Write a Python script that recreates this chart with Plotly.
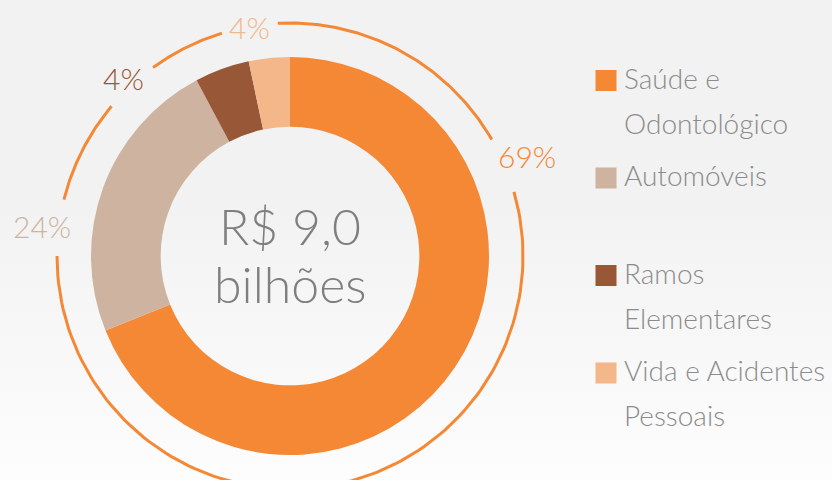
import numpy as np
import plotly.graph_objects as go

# data (R$ bilhões)
categories = ["Saúde e<br>Odontológico", "Automóveis", "Ramos<br>Elementares", "Vida e Acidentes<br>Pessoais"]
values = [6.2, 2.1, 0.4, 0.3]
pct_labels = ["69%", "24%", "4%", "4%"]
total_label = ["R$ 9,0", "bilhões"]

colors = ["#F48835", "#CDB3A0", "#985737", "#F3B78A"]
label_colors = ["#F48835", "#CDB3A0", "#985737", "#F3B78A"]

W, H = 832, 480
cx, cy, R = 290, 256, 199   # donut centre / outer radius in px
ring_r = 233                 # decorative outer arc
label_angles = [67, 277, 317, 350]   # deg, clockwise from 12 o'clock
label_radii = [257, 250, 244, 233]
gap = 7
FONT = "Lato"

fig = go.Figure()

# background gradient
ys = np.linspace(0, H, 61)
fig.add_trace(go.Heatmap(
    x=[0, W], y=ys, z=[[v] for v in (ys[:-1] + ys[1:]) / 2 / H],
    colorscale=[[0, "#f2f2f2"], [0.42, "#f2f2f2"], [1, "#fdfdfd"]],
    showscale=False, hoverinfo="skip", xaxis="x", yaxis="y",
))

# outer arc with gaps around the labels
ax, ay = [], []
gaps = sorted(label_angles)
for i, a in enumerate(gaps):
    start = a + gap
    end = gaps[(i + 1) % len(gaps)] - gap
    if end <= start:
        end += 360
    t = np.radians(np.linspace(start, end, 120))
    ax += list(cx + ring_r * np.sin(t)) + [None]
    ay += list(cy - ring_r * np.cos(t)) + [None]
fig.add_trace(go.Scatter(x=ax, y=ay, mode="lines", line=dict(color="#F48835", width=3),
                         hoverinfo="skip", showlegend=False))

# donut
fig.add_trace(go.Pie(
    labels=categories, values=values, hole=0.65, sort=False, direction="clockwise",
    rotation=0, marker=dict(colors=colors, line=dict(width=0)), textinfo="none",
    showlegend=False,
    domain=dict(x=[(cx - R) / W, (cx + R) / W], y=[(H - cy - R) / H, (H - cy + R) / H]),
))

# percentage labels
for txt, ang, r, c in zip(pct_labels, label_angles, label_radii, label_colors):
    t = np.radians(ang)
    fig.add_annotation(x=cx + r * np.sin(t), y=cy - r * np.cos(t), text=txt, showarrow=False,
                       xref="x", yref="y", font=dict(family=FONT, size=30, color=c, weight=300))

# centre text
for i, line in enumerate(total_label):
    fig.add_annotation(x=cx, y=226 + i * 58, text=line, showarrow=False, xref="x", yref="y",
                       font=dict(family=FONT, size=50, color="#7f7f7f", weight=300))

# custom legend
leg_x, leg_y0, leg_step, line_step = 606, 80.5, 97.5, 45
fig.add_trace(go.Scatter(
    x=[leg_x] * len(categories), y=[leg_y0 + i * leg_step for i in range(len(categories))],
    mode="markers", marker=dict(symbol="square", size=21, color=colors),
    hoverinfo="skip", showlegend=False,
))
for i, cat in enumerate(categories):
    for j, line in enumerate(cat.split("<br>")):
        fig.add_annotation(x=622, y=leg_y0 - 3 + i * leg_step + j * line_step, text=line,
                           showarrow=False, xref="x", yref="y", xanchor="left",
                           font=dict(family=FONT, size=28, color="#8c8c8c", weight=300))

fig.update_layout(
    width=W, height=H, margin=dict(l=0, r=0, t=0, b=0),
    paper_bgcolor="#f4f4f4", plot_bgcolor="rgba(0,0,0,0)",
    xaxis=dict(range=[0, W], visible=False, fixedrange=True),
    yaxis=dict(range=[H, 0], visible=False, fixedrange=True),
    showlegend=False,
)

fig.write_html("out.html", config={"displayModeBar": False},
               post_script="document.body.style.margin='0';")
